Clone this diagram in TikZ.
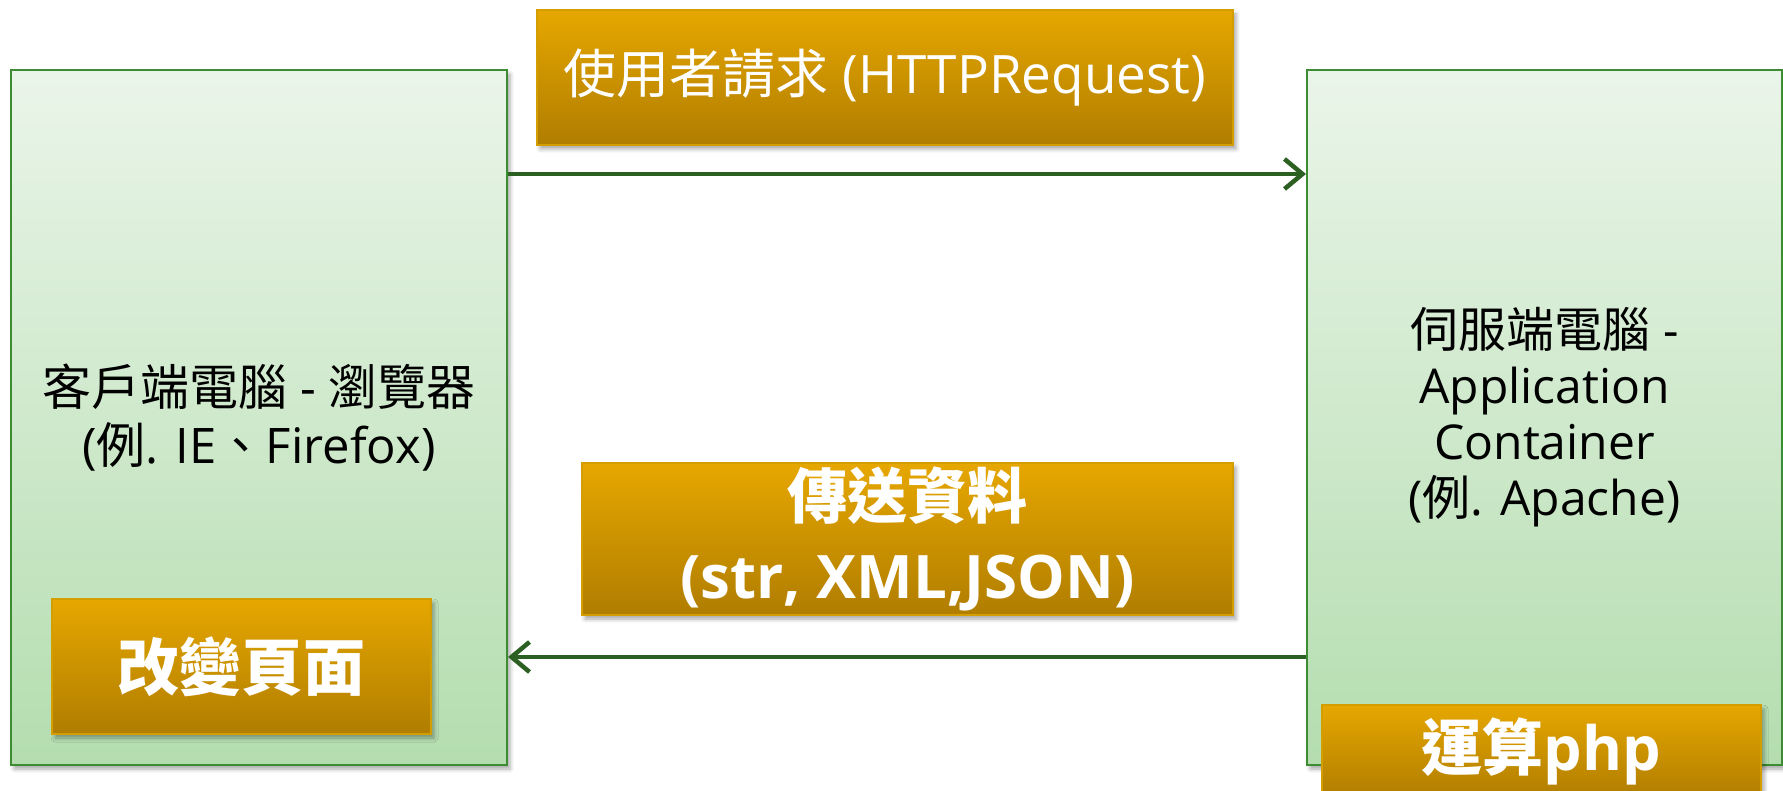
\documentclass[tikz,border=0pt]{standalone}
\usepackage{fontspec}
\setmainfont{Open Sans}
\newfontfamily\cjk{Noto Sans CJK TC}
\usetikzlibrary{calc,arrows.meta,shadows.blur}
\definecolor{boxedge}{RGB}{61,139,51}
\definecolor{boxtop}{RGB}{234,245,233}
\definecolor{boxbottom}{RGB}{180,221,175}
\definecolor{tagtop}{RGB}{230,167,0}
\definecolor{tagbottom}{RGB}{176,125,0}
\definecolor{tagedge}{RGB}{212,158,0}
\definecolor{flowline}{RGB}{44,95,34}

\begin{document}
\begin{tikzpicture}[x=1pt, y=-1pt,
	machine/.style={draw=boxedge, line width=2pt, top color=boxtop, bottom color=boxbottom,
		anchor=north west, inner sep=0pt, align=center, font=\fontsize{49}{58}\selectfont,
		blur shadow={shadow xshift=3pt, shadow yshift=-4pt, shadow blur radius=4pt, shadow opacity=35}},
	tag/.style={draw=tagedge, line width=2pt, top color=tagtop, bottom color=tagbottom, text=white,
		anchor=north west, inner sep=0pt, align=center,
		blur shadow={shadow xshift=3pt, shadow yshift=-4pt, shadow blur radius=4pt, shadow opacity=35}},
	flow/.style={draw=flowline, line width=4.5pt, -{Straight Barb[length=18pt, width=30pt]}}]
			%%%%% START %%%%%
			
			\useasboundingbox (0, 0) rectangle (1783, 791);
			
			% the two machines
			\node[machine, minimum width=496pt, minimum height=695pt] (client) at (10, 69)
				{{\cjk 客戶端電腦} - {\cjk 瀏覽器}\\({\cjk 例}. IE{\cjk 、}Firefox)};
			\node[machine, minimum width=475pt, minimum height=695pt, font=\fontsize{48}{56}\selectfont] (server) at (1306, 69)
				{{\cjk 伺服端電腦} -\\Application\\Container\\({\cjk 例}. Apache)};
			
			% labels
			\node[tag, minimum width=696pt, minimum height=135pt, font=\fontsize{53}{60}\selectfont] (request) at (536, 9)
				{{\cjk 使用者請求} (HTTPRequest)};
			\node[tag, minimum width=651pt, minimum height=152pt, font=\bfseries\fontsize{60}{80}\selectfont] (data) at (581, 462)
				{{\cjk\bfseries 傳送資料}\\(str, XML,JSON)};
			\node[tag, minimum width=379pt, minimum height=135pt, font=\fontsize{62}{70}\selectfont] (change) at (51, 598)
				{{\cjk\bfseries 改變頁面}};
			\node[tag, minimum width=439pt, minimum height=92pt, font=\bfseries\fontsize{61}{70}\selectfont] (php) at (1321, 704)
				{{\cjk\bfseries 運算}php};
			
			% request and answer
			\draw[flow] ($(client.north east)+(0, 105)$) -- ($(server.north west)+(0, 105)$);
			\draw[flow] ($(server.north west)+(0, 588)$) -- ($(client.north east)+(0, 588)$);
			
			%%%%% END %%%%%
		\end{tikzpicture}
\end{document}
